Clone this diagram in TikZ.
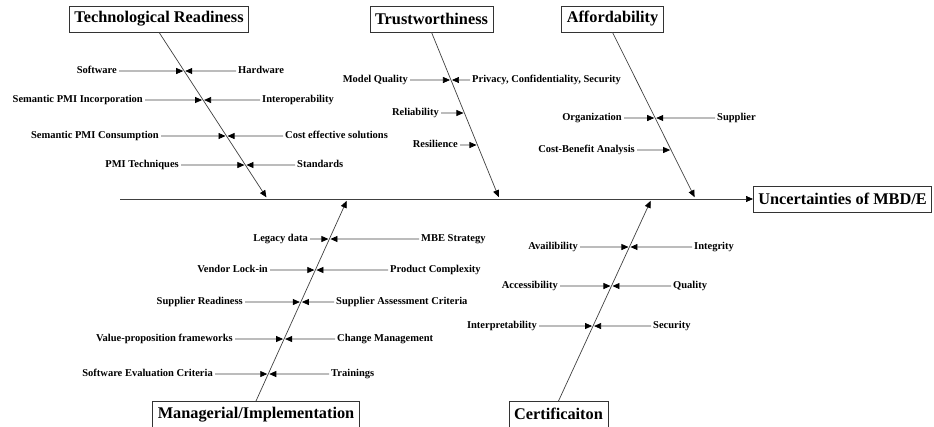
\documentclass[tikz,border=0pt]{standalone}
\usepackage{fontspec}
\setmainfont{Liberation Serif}
\usetikzlibrary{arrows.meta}

\begin{document}
\begin{tikzpicture}[x=1pt,y=-1pt,>={Triangle[length=7pt,width=6pt,color=black]},
  line/.style={black!75,line width=0.7pt},
  head/.style={draw=black!80,line width=0.6pt,font=\fontsize{16.3}{18}\selectfont\bfseries,inner xsep=5pt,inner ysep=0pt,minimum height=26pt},
  cause/.style={font=\fontsize{10.5}{12}\selectfont\bfseries,inner sep=2pt,text height=1.6ex,text depth=.3ex},
  sub/.style={line,->,shorten >=1pt}]
\useasboundingbox (0,0) rectangle (934,426);
\node[head] (mbd) at (842.5,199) {Uncertainties of MBD/E};
\node[head] (tr) at (159,19) {Technological Readiness};
\node[head] (tw) at (431.5,19) {Trustworthiness};
\node[head] (af) at (612.5,19) {Affordability};
\node[head,anchor=north] (mi) at (256,401) {Managerial/Implementation};
\node[head,anchor=north] (ce) at (558.5,401) {Certificaiton};
\coordinate (tail) at (120,199);
\coordinate (trtip) at (267.5,199);
\coordinate (twtip) at (499.5,199);
\coordinate (aftip) at (695.5,199);
\coordinate (mitip) at (347.5,199);
\coordinate (cetip) at (651.5,199);
\draw[line,->] (tail) -- (mbd);
\draw[line,->,shorten >=2pt] (tr.south) -- (trtip);
\draw[line,->,shorten >=2pt] (tw.south) -- (twtip);
\draw[line,->,shorten >=2pt] (af.south) -- (aftip);
\draw[line,->,shorten >=2pt] (mi.north) -- (mitip);
\draw[line,->,shorten >=2pt] (ce.north) -- (cetip);

\node[cause,anchor=east] (sw) at (119,71) {Software};
\node[cause,anchor=west] (hw) at (236,71) {Hardware};
\node[cause,anchor=east] (spi) at (145,100) {Semantic PMI Incorporation};
\node[cause,anchor=west] (iop) at (260,100) {Interoperability};
\node[cause,anchor=east] (spc) at (161,136) {Semantic PMI Consumption};
\node[cause,anchor=west] (ces) at (283,136) {Cost effective solutions};
\node[cause,anchor=east] (pmt) at (181,165) {PMI Techniques};
\node[cause,anchor=west] (std) at (295,165) {Standards};
\coordinate (sw-t) at (intersection of tr.south--trtip and sw.east--hw.west);
\coordinate (spi-t) at (intersection of tr.south--trtip and spi.east--iop.west);
\coordinate (spc-t) at (intersection of tr.south--trtip and spc.east--ces.west);
\coordinate (pmt-t) at (intersection of tr.south--trtip and pmt.east--std.west);
\draw[sub] (sw) -- (sw-t);
\draw[sub] (hw) -- (sw-t);
\draw[sub] (spi) -- (spi-t);
\draw[sub] (iop) -- (spi-t);
\draw[sub] (spc) -- (spc-t);
\draw[sub] (ces) -- (spc-t);
\draw[sub] (pmt) -- (pmt-t);
\draw[sub] (std) -- (pmt-t);

\node[cause,anchor=east] (mq) at (410,80) {Model Quality};
\node[cause,anchor=west] (pcs) at (470,80) {Privacy, Confidentiality, Security};
\node[cause,anchor=east] (rel) at (441,113) {Reliability};
\node[cause,anchor=east] (res) at (460,145) {Resilience};
\coordinate (mq-t) at (intersection of tw.south--twtip and mq.east--pcs.west);
\coordinate (rel-t) at (intersection of tw.south--twtip and rel.west--rel.east);
\coordinate (res-t) at (intersection of tw.south--twtip and res.west--res.east);
\draw[sub] (mq) -- (mq-t);
\draw[sub] (pcs) -- (mq-t);
\draw[sub] (rel) -- (rel-t);
\draw[sub] (res) -- (res-t);

\node[cause,anchor=east] (org) at (624,118) {Organization};
\node[cause,anchor=west] (sup) at (715,118) {Supplier};
\node[cause,anchor=east] (cba) at (637,150) {Cost-Benefit Analysis};
\coordinate (org-t) at (intersection of af.south--aftip and org.east--sup.west);
\coordinate (cba-t) at (intersection of af.south--aftip and cba.west--cba.east);
\draw[sub] (org) -- (org-t);
\draw[sub] (sup) -- (org-t);
\draw[sub] (cba) -- (cba-t);

\node[cause,anchor=east] (leg) at (310,239) {Legacy data};
\node[cause,anchor=west] (mbe) at (419,239) {MBE Strategy};
\node[cause,anchor=east] (vli) at (270,270) {Vendor Lock-in};
\node[cause,anchor=west] (pcx) at (388,270) {Product Complexity};
\node[cause,anchor=east] (srd) at (245,302) {Supplier Readiness};
\node[cause,anchor=west] (sac) at (334,302) {Supplier Assessment Criteria};
\node[cause,anchor=east] (vpf) at (235,339) {Value-proposition frameworks};
\node[cause,anchor=west] (chm) at (335,339) {Change Management};
\node[cause,anchor=east] (sec) at (215,374) {Software Evaluation Criteria};
\node[cause,anchor=west] (trn) at (329,374) {Trainings};
\coordinate (leg-t) at (intersection of mi.north--mitip and leg.east--mbe.west);
\coordinate (vli-t) at (intersection of mi.north--mitip and vli.east--pcx.west);
\coordinate (srd-t) at (intersection of mi.north--mitip and srd.east--sac.west);
\coordinate (vpf-t) at (intersection of mi.north--mitip and vpf.east--chm.west);
\coordinate (sec-t) at (intersection of mi.north--mitip and sec.east--trn.west);
\draw[sub] (leg) -- (leg-t);
\draw[sub] (mbe) -- (leg-t);
\draw[sub] (vli) -- (vli-t);
\draw[sub] (pcx) -- (vli-t);
\draw[sub] (srd) -- (srd-t);
\draw[sub] (sac) -- (srd-t);
\draw[sub] (vpf) -- (vpf-t);
\draw[sub] (chm) -- (vpf-t);
\draw[sub] (sec) -- (sec-t);
\draw[sub] (trn) -- (sec-t);

\node[cause,anchor=east] (ava) at (580,247) {Availibility};
\node[cause,anchor=west] (itg) at (692,247) {Integrity};
\node[cause,anchor=east] (acc) at (560,286) {Accessibility};
\node[cause,anchor=west] (qua) at (671,286) {Quality};
\node[cause,anchor=east] (itp) at (539,326) {Interpretability};
\node[cause,anchor=west] (scy) at (651,326) {Security};
\coordinate (ava-t) at (intersection of ce.north--cetip and ava.east--itg.west);
\coordinate (acc-t) at (intersection of ce.north--cetip and acc.east--qua.west);
\coordinate (itp-t) at (intersection of ce.north--cetip and itp.east--scy.west);
\draw[sub] (ava) -- (ava-t);
\draw[sub] (itg) -- (ava-t);
\draw[sub] (acc) -- (acc-t);
\draw[sub] (qua) -- (acc-t);
\draw[sub] (itp) -- (itp-t);
\draw[sub] (scy) -- (itp-t);
\end{tikzpicture}
\end{document}
